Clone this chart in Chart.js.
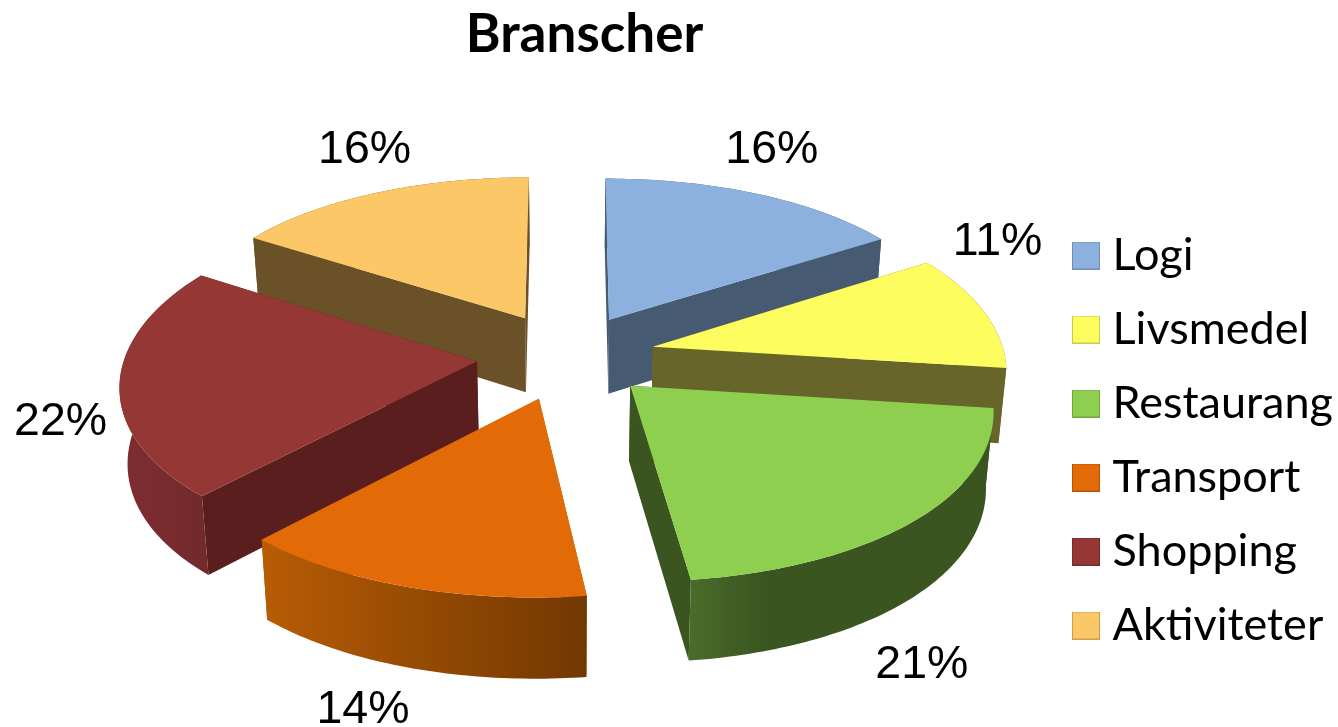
<!DOCTYPE html>
<html lang="sv">
<head>
<meta charset="utf-8">
<title>Branscher</title>
<script src="https://cdn.jsdelivr.net/npm/chart.js@4"></script>
<style>
  html, body { margin: 0; padding: 0; background: #fff; }
  canvas { display: block; }
</style>
</head>
<body>
<canvas id="chartBranscher" width="1338" height="727"></canvas>
<script>
// Data
const categories = ["Logi", "Livsmedel", "Restaurang", "Transport", "Shopping", "Aktiviteter"];
const shares = [16, 11, 21, 14, 22, 16];

// Colours of the top faces and of the walls
const topColors = ["#8cb1df", "#fdfd60", "#8fcf50", "#e26b07", "#953735", "#fcc766"];
const sideColors = ["#465a72", "#68652a", "#3a5520", "#b35a05", "#5a1e1e", "#6a5128"];
const wallFrom = ["#465a72", "#68652a", "#4a6b2a", "#b85c05", "#7f2d2f", "#6a5128"];
const wallTo = ["#465a72", "#68652a", "#3a5520", "#723802", "#722a2c", "#6a5128"];
const wallStop = [1, 1, 0.25, 1, 1, 1];

// How far each slice is pulled out of the pie
const sliceOffsets = [67, 67, 66, 70, 70, 70];

// How far each percent label sits from the rim of its slice
const labelNudgeX = [14, 14, 6, -44, -59, -12];
const labelNudgeY = [-45, -70, 144, 122, 38, -44];

// Shift of the tilted pie from the centre Chart.js computes
const pieShiftX = -16.5;
const pieShiftY = -16.5;

// Tilted view: w is depth on the pie plane, 1 = one radius towards the viewer
const widthAt = (w) => 352 + 42 * w + 8 * w * w;
const dropAt = (w) => 169.4 * w + 19.6 * w * w;
const depthAt = (w) => 75 + 5 * w;
// The lower edge of a wall leans a little towards the middle
const lowNarrow = 0.982;

function project(arc, u, w, low) {
  const x = arc.x + pieShiftX + u * widthAt(w) * (low ? lowNarrow : 1);
  const y = arc.y + pieShiftY + dropAt(w) + (low ? depthAt(w) : 0);
  return { x, y };
}

// Outline of one slice on the plane, read from the arc element
function sliceGeometry(arc) {
  const p = arc.getProps(["x", "y", "startAngle", "endAngle", "outerRadius"], true);
  const mid = (p.startAngle + p.endAngle) / 2;
  const d = arc.options.offset / p.outerRadius;
  const apex = { u: d * Math.cos(mid), w: d * Math.sin(mid) };
  const rim = [];
  const steps = Math.ceil((p.endAngle - p.startAngle) / (Math.PI / 180));
  for (let i = 0; i <= steps; i++) {
    const a = p.startAngle + ((p.endAngle - p.startAngle) * i) / steps;
    rim.push({ u: apex.u + Math.cos(a), w: apex.w + Math.sin(a) });
  }
  return { p, mid, d, apex, rim };
}

function fillPath(ctx, points, fill) {
  ctx.beginPath();
  points.forEach((pt, i) => (i ? ctx.lineTo(pt.x, pt.y) : ctx.moveTo(pt.x, pt.y)));
  ctx.closePath();
  ctx.fillStyle = fill;
  ctx.fill();
}

function drawSlice(ctx, p, g, i) {
  const top = g.rim.map((r) => project(p, r.u, r.w, false));
  const low = g.rim.map((r) => project(p, r.u, r.w, true));
  const apexTop = project(p, g.apex.u, g.apex.w, false);
  const apexLow = project(p, g.apex.u, g.apex.w, true);
  const last = top.length - 1;

  // Straight walls first, the rim wall and the top face go over them
  fillPath(ctx, [apexTop, top[0], low[0], apexLow], sideColors[i]);
  fillPath(ctx, [apexTop, top[last], low[last], apexLow], sideColors[i]);

  const xs = top.map((t) => t.x);
  const grad = ctx.createLinearGradient(Math.min(...xs), 0, Math.max(...xs), 0);
  grad.addColorStop(0, wallFrom[i]);
  grad.addColorStop(wallStop[i], wallTo[i]);
  fillPath(ctx, top.concat(low.slice().reverse()), grad);

  fillPath(ctx, [apexTop].concat(top), topColors[i]);
}

// Legend swatch, a small canvas so the text can sit closer to it
function swatch(color) {
  const c = document.createElement("canvas");
  c.width = 28;
  c.height = 28;
  const g = c.getContext("2d");
  g.fillStyle = color;
  g.fillRect(0, 0, 28, 28);
  g.strokeStyle = "rgba(0,0,0,0.2)";
  g.strokeRect(0.5, 0.5, 27, 27);
  return c;
}

const pie3d = {
  id: "pie3d",
  beforeDatasetDraw(chart) {
    const ctx = chart.ctx;
    const arcs = chart.getDatasetMeta(0).data;
    const slices = arcs.map((arc, i) => ({ i, arc, g: sliceGeometry(arc) }));
    // Back slices first
    slices.sort((a, b) => a.g.apex.w - b.g.apex.w);
    slices.forEach((s) => drawSlice(ctx, s.arc, s.g, s.i));
    return false;
  },
  afterDraw(chart) {
    const ctx = chart.ctx;
    ctx.save();
    ctx.font = "46.5px 'Liberation Sans'";
    ctx.fillStyle = "#000";
    ctx.textAlign = "center";
    ctx.textBaseline = "middle";
    chart.getDatasetMeta(0).data.forEach((arc, i) => {
      const g = sliceGeometry(arc);
      const k = 1 + g.d;
      const rim = project(arc, k * Math.cos(g.mid), k * Math.sin(g.mid), false);
      ctx.fillText(shares[i] + "%", rim.x + labelNudgeX[i], rim.y + labelNudgeY[i] + 1);
    });
    ctx.restore();
  },
};

new Chart(document.getElementById("chartBranscher"), {
  type: "pie",
  data: {
    labels: categories,
    datasets: [
      {
        data: shares,
        backgroundColor: topColors,
        borderWidth: 0,
        offset: sliceOffsets,
      },
    ],
  },
  plugins: [pie3d],
  options: {
    responsive: false,
    animation: false,
    layout: { padding: { left: 116, bottom: 50 } },
    plugins: {
      tooltip: { enabled: false },
      title: {
        display: true,
        text: "Branscher",
        fullSize: false,
        color: "#000",
        font: { family: "Lato", size: 53, weight: "bold" },
        padding: { top: 3, bottom: 1 },
      },
      legend: {
        position: "right",
        align: "end",
        maxWidth: 285,
        labels: {
          color: "#000",
          usePointStyle: true,
          pointStyleWidth: 8,
          boxHeight: 28,
          padding: 29,
          font: { family: "Lato", size: 45 },
          generateLabels(chart) {
            const items = Chart.overrides.pie.plugins.legend.labels.generateLabels(chart);
            return items.map((item, i) => ({ ...item, pointStyle: swatch(topColors[i]) }));
          },
        },
      },
    },
  },
});
</script>
</body>
</html>
